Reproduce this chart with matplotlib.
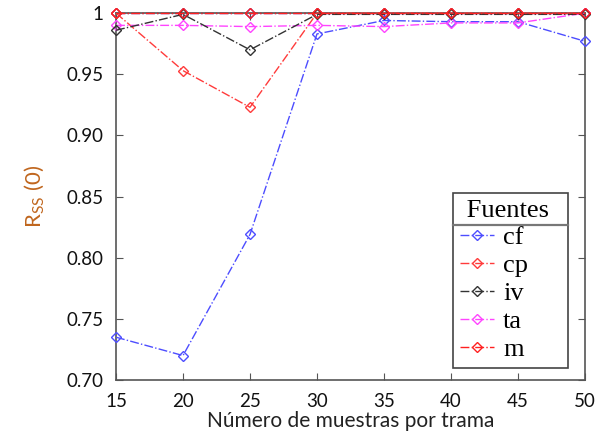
import matplotlib
matplotlib.use("Agg")
import matplotlib.pyplot as plt
from matplotlib.lines import Line2D

muestras = [15, 20, 25, 30, 35, 40, 45, 50]

cf = [0.735, 0.720, 0.819, 0.983, 0.994, 0.993, 0.993, 0.977]
cp = [1.000, 0.953, 0.923, 1.000, 1.000, 1.000, 1.000, 1.000]
iv = [0.986, 0.999, 0.970, 0.999, 0.999, 0.999, 0.999, 0.999]
ta = [0.990, 0.990, 0.989, 0.990, 0.989, 0.992, 0.992, 1.000]
m = [1.000, 1.000, 1.000, 1.000, 1.000, 1.000, 1.000, 1.000]
ref = [1.000, 1.000, 1.000, 1.000, 1.000, 1.000, 1.000, 1.000]

yticks = [0.70, 0.75, 0.80, 0.85, 0.90, 0.95, 1.0]
ytick_labels = ["0.70", "0.75", "0.80", "0.85", "0.90", "0.95", "1"]

fig = plt.figure(figsize=(6.03, 4.38), dpi=100)
ax = fig.add_axes([0.1924, 0.1324, 0.7776, 0.8376])

style = dict(linestyle='-.', marker='D', markersize=5.5, markerfacecolor='none',
             markeredgewidth=1.0, linewidth=1.0, clip_on=False)

ax.plot(muestras, ref, color='#3a3ad8', zorder=2, **style)
ax.plot(muestras, cf, color='#4d4dff', label='cf', zorder=3, **style)
ax.plot(muestras, cp, color='#ff3b3b', label='cp', zorder=3, **style)
ax.plot(muestras, iv, color='#333333', label='iv', zorder=4, **style)
ax.plot(muestras, ta, color='#ff44ff', label='ta', zorder=3, **style)
ax.plot(muestras, m, color='#ff2020', label='m', zorder=5, **style)

ax.set_xlim(15, 50)
ax.set_ylim(0.70, 1.0)
ax.set_xticks(muestras)
ax.set_yticks(yticks)
ax.set_yticklabels(ytick_labels)

for s in ax.spines.values():
    s.set_color('#555555')
    s.set_linewidth(1.2)

ax.tick_params(direction='in', top=True, right=True, length=5, color='#555555',
               labelsize=13.5, pad=9)
for lab in ax.get_xticklabels() + ax.get_yticklabels():
    lab.set_fontfamily('Lato')
    lab.set_color('#111111')

ax.set_xlabel('Número de muestras por trama', fontsize=15, family='Lato',
              color='#222222', labelpad=1)
ax.set_ylabel(r'R$_{\mathregular{SS}}$ (0)', fontsize=16, family='Lato',
              color='#c0661e', labelpad=14)

leg = ax.legend(title=' Fuentes', loc='lower left', mode='expand',
                bbox_to_anchor=(0.7186, 0.033, 0.245, 0.4),
                prop={'family': 'Liberation Serif', 'size': 19},
                title_fontproperties={'family': 'Liberation Serif', 'size': 19},
                fancybox=False, edgecolor='#444444', framealpha=1,
                handlelength=1.3, handletextpad=0.35, labelspacing=0.17,
                borderpad=0.25, borderaxespad=0, alignment='left',
                markerscale=0.9)
leg.get_frame().set_linewidth(1.2)

# separator line under the legend title
fig.canvas.draw()
lb = leg.get_window_extent()
tb = leg.get_title().get_window_extent()
inv = fig.transFigure.inverted()
x0, y0 = inv.transform((lb.x0, tb.y0 - 3))
x1, _ = inv.transform((lb.x1, tb.y0 - 3))
fig.add_artist(Line2D([x0, x1], [y0, y0], color='#777777', linewidth=1.6,
                      transform=fig.transFigure, zorder=10))

fig.savefig('out.png', dpi=100)
